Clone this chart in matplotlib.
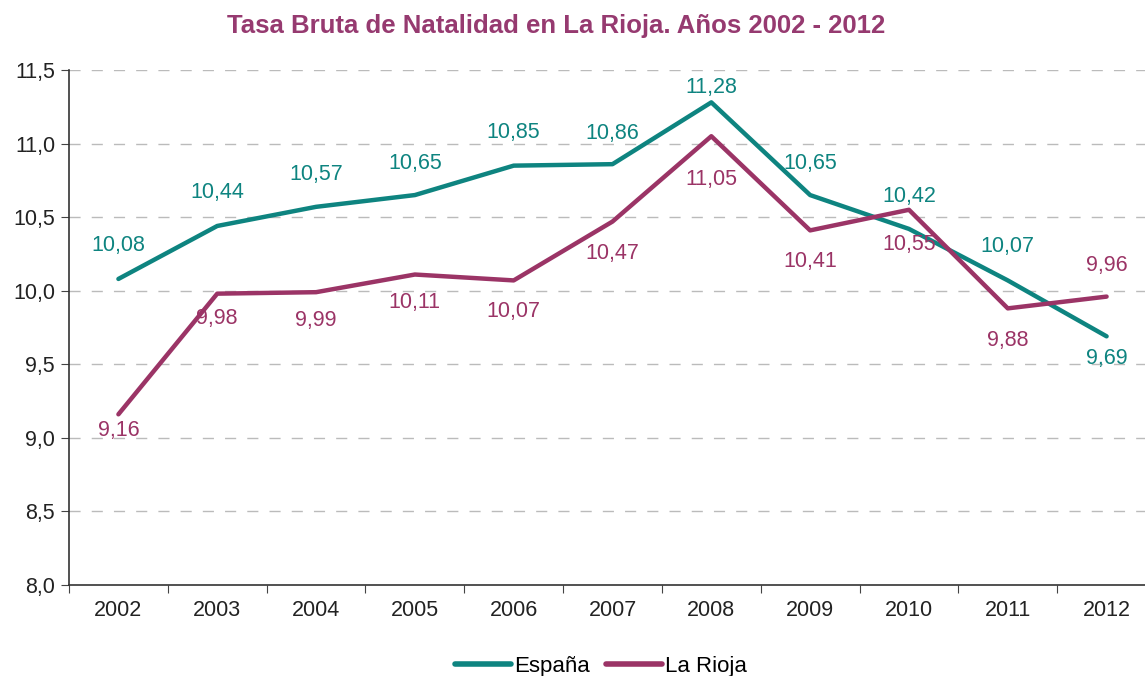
import matplotlib
matplotlib.use("Agg")
import matplotlib.pyplot as plt
from matplotlib.lines import Line2D

years = ['2002', '2003', '2004', '2005', '2006', '2007', '2008', '2009', '2010', '2011', '2012']
espana = [10.08, 10.44, 10.57, 10.65, 10.85, 10.86, 11.28, 10.65, 10.42, 10.07, 9.69]
rioja = [9.16, 9.98, 9.99, 10.11, 10.07, 10.47, 11.05, 10.41, 10.55, 9.88, 9.96]

# label offsets in pixels (layout only)
esp_dy = [33, 33, 32, 32, 33, 31, 15, 32, 32, 34, -22]
rio_dy = [-16, -25, -28, -28, -31, -32, -43, -31, -35, -32, 31]

teal = '#0E8480'
plum = '#9B3466'
title_col = '#963A70'

plt.rcParams['font.family'] = ['Liberation Sans', 'DejaVu Sans']

fig = plt.figure(figsize=(11.45, 6.76), dpi=100)
ax = fig.add_axes([69 / 1145, 91 / 676, 1087 / 1145, 515 / 676])

x = list(range(len(years)))
ax.plot(x, espana, color=teal, lw=3.2, solid_capstyle='round', solid_joinstyle='round', zorder=3)
ax.plot(x, rioja, color=plum, lw=3.2, solid_capstyle='round', solid_joinstyle='round', zorder=3)

def fmt(v):
    return f'{v:.2f}'.replace('.', ',')

for i, v in enumerate(espana):
    ax.annotate(fmt(v), (i, v), xytext=(0, esp_dy[i]), textcoords='offset pixels',
                ha='center', va='center', color=teal, fontsize=15.5)
for i, v in enumerate(rioja):
    ax.annotate(fmt(v), (i, v), xytext=(0, rio_dy[i]), textcoords='offset pixels',
                ha='center', va='center', color=plum, fontsize=15.5)

ax.set_xlim(-0.5, len(years) - 0.5)
ax.set_ylim(8.0, 11.5)
yt = [8.0 + 0.5 * k for k in range(8)]
ax.set_yticks(yt)
ax.set_yticklabels([f'{v:.1f}'.replace('.', ',') for v in yt], fontsize=15.5, color='#222222')
ax.set_xticks([i - 0.5 for i in range(len(years) + 1)])
ax.set_xticklabels([])
ax.set_xticks(x, minor=True)
ax.set_xticklabels(years, minor=True, fontsize=15.5, color='#222222')
ax.tick_params(axis='x', which='minor', length=0, pad=11)
ax.tick_params(axis='x', which='major', length=6, color='#444444', direction='out')
ax.tick_params(axis='y', length=6, color='#444444', pad=4)

for yv in yt[1:]:
    ax.axhline(yv, color='#bbbbbb', lw=1, ls=(0, (8, 8)), zorder=1)

for s in ['top', 'right']:
    ax.spines[s].set_visible(False)
for s in ['left', 'bottom']:
    ax.spines[s].set_color('#333333')
    ax.spines[s].set_linewidth(1.2)

fig.text(0.486, 0.962, 'Tasa Bruta de Natalidad en La Rioja. Años 2002 - 2012',
         ha='center', va='center', fontsize=18.5, color=title_col, fontweight='bold')

handles = [Line2D([], [], color=teal, lw=4, solid_capstyle='round'),
           Line2D([], [], color=plum, lw=4, solid_capstyle='round')]
fig.legend(handles, ['España', 'La Rioja'], loc='center', bbox_to_anchor=(0.525, 0.014),
           ncol=2, frameon=False, fontsize=16, handlelength=2.5, handletextpad=0.15,
           columnspacing=0.75)

fig.savefig('out.png', dpi=100)
